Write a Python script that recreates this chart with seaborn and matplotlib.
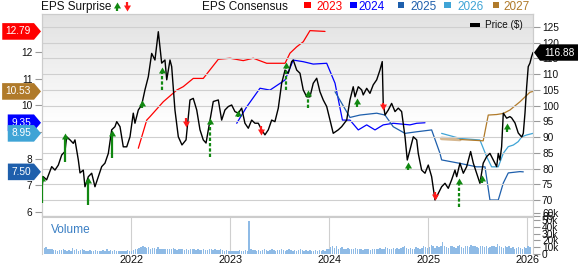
import numpy as np
import pandas as pd
import matplotlib
matplotlib.use("Agg")
import matplotlib.pyplot as plt
import seaborn as sns
from matplotlib.path import Path
from matplotlib.markers import MarkerStyle
from matplotlib.patches import Rectangle, Polygon
from matplotlib.colors import LinearSegmentedColormap

# ---------------- data (decimal years) ----------------
price_t = [2021.093, 2021.109, 2021.143, 2021.194, 2021.227, 2021.261, 2021.295, 2021.328, 2021.345, 2021.379,
           2021.412, 2021.429, 2021.463, 2021.480, 2021.513, 2021.530, 2021.564, 2021.598, 2021.631, 2021.665,
           2021.699, 2021.732, 2021.766, 2021.800, 2021.833, 2021.851, 2021.884, 2021.917, 2021.952, 2021.985,
           2022.018, 2022.035, 2022.069, 2022.103, 2022.136, 2022.170, 2022.204, 2022.237, 2022.271, 2022.305,
           2022.338, 2022.356, 2022.389, 2022.406, 2022.439, 2022.473, 2022.510, 2022.551, 2022.591, 2022.624,
           2022.659, 2022.692, 2022.725, 2022.753, 2022.793, 2022.826, 2022.877, 2022.911, 2022.944, 2022.978,
           2023.012, 2023.045, 2023.079, 2023.113, 2023.146, 2023.180, 2023.214, 2023.247, 2023.281, 2023.315,
           2023.348, 2023.382, 2023.416, 2023.449, 2023.483, 2023.517, 2023.551, 2023.584, 2023.618, 2023.634,
           2023.669, 2023.702, 2023.735, 2023.770, 2023.803, 2023.836, 2023.871, 2023.904, 2023.937, 2023.972,
           2024.005, 2024.038, 2024.089, 2024.123, 2024.174, 2024.207, 2024.240, 2024.258, 2024.291, 2024.325,
           2024.341, 2024.376, 2024.409, 2024.442, 2024.477, 2024.510, 2024.533, 2024.543, 2024.561, 2024.594,
           2024.628, 2024.662, 2024.695, 2024.729, 2024.763, 2024.786, 2024.813, 2024.847, 2024.881, 2024.897,
           2024.931, 2024.965, 2024.998, 2025.032, 2025.066, 2025.099, 2025.133, 2025.167, 2025.200, 2025.234,
           2025.268, 2025.285, 2025.318, 2025.352, 2025.386, 2025.426, 2025.453, 2025.487, 2025.520, 2025.553,
           2025.588, 2025.621, 2025.655, 2025.689, 2025.705, 2025.722, 2025.739, 2025.756, 2025.790, 2025.823,
           2025.840, 2025.874, 2025.907, 2025.942, 2025.958, 2025.975, 2025.992, 2026.008, 2026.025, 2026.042,
           2026.056]
price_v = [73.2, 77.4, 76.4, 80.6, 79.5, 81.1, 84.3, 85.4, 90.1, 89.1,
           88.0, 89.1, 82.7, 78.6, 79.5, 74.2, 77.4, 78.5, 74.2, 77.4,
           80.6, 81.7, 84.8, 92.3, 93.3, 94.9, 93.3, 86.9, 86.9, 90.1,
           97.6, 94.4, 98.6, 100.2, 105.0, 109.2, 116.6, 114.5, 123.5, 113.5,
           114.5, 108.2, 114.5, 112.4, 98.6, 90.1, 87.5, 89.1, 101.8, 102.3,
           98.6, 92.3, 89.1, 88.1, 95.4, 101.3, 101.8, 95.4, 98.6, 99.7,
           100.2, 98.1, 97.6, 99.2, 94.4, 92.8, 95.4, 94.4, 94.4, 92.3,
           90.7, 92.3, 95.4, 94.9, 99.2, 107.1, 111.3, 110.3, 114.0, 114.5,
           111.3, 110.3, 105.0, 102.8, 102.8, 107.1, 108.7, 104.4, 101.8, 99.7,
           95.4, 91.2, 92.3, 93.3, 95.4, 101.8, 106.0, 102.8, 106.0, 105.0,
           103.4, 105.5, 103.9, 106.6, 108.2, 111.3, 114.0, 100.7, 97.0, 98.6,
           100.7, 98.1, 99.2, 98.1, 90.1, 82.7, 85.9, 90.1, 89.1, 84.8,
           79.5, 78.5, 81.1, 77.4, 70.0, 72.1, 74.2, 75.3, 73.7, 76.4,
           79.5, 77.4, 81.7, 78.5, 80.6, 85.4, 81.7, 78.5, 75.3, 81.7,
           83.8, 84.8, 82.7, 80.6, 84.8, 82.7, 86.9, 97.6, 96.0, 96.5,
           96.1, 94.5, 91.3, 90.0, 91.2, 97.6, 106.0, 112.4, 113.5, 115.6,
           116.88]

eps23_t = [2022.069, 2022.154, 2022.187, 2022.321, 2022.457, 2022.523, 2022.624, 2022.725, 2022.877, 2022.995,
           2023.129, 2023.230, 2023.366, 2023.551, 2023.601, 2023.669, 2023.735, 2023.803, 2023.955]
eps23_v = [8.39, 9.45, 9.58, 10.14, 10.58, 10.71, 11.02, 11.02, 11.74, 11.78,
           11.69, 11.78, 11.59, 11.59, 11.97, 12.21, 12.40, 12.82, 12.79]
eps24_t = [2023.063, 2023.164, 2023.298, 2023.399, 2023.551, 2023.634, 2023.735, 2023.836, 2023.972, 2024.056,
           2024.131, 2024.207, 2024.291, 2024.376, 2024.460, 2024.543, 2024.644, 2024.813, 2024.881, 2024.965]
eps24_v = [9.33, 9.95, 10.65, 10.58, 10.96, 11.71, 11.65, 11.56, 11.59, 10.84,
           9.45, 9.45, 9.08, 9.27, 9.08, 9.27, 9.33, 9.27, 9.33, 9.35]
eps25_t = [2024.056, 2024.207, 2024.308, 2024.477, 2024.561, 2024.644, 2024.763, 2024.881, 2025.032, 2025.116,
           2025.133, 2025.318, 2025.487, 2025.571, 2025.621, 2025.705, 2025.756, 2025.806, 2025.924, 2025.958]
eps25_v = [10.52, 9.55, 9.64, 9.71, 9.64, 9.20, 8.95, 9.01, 9.08, 8.20,
           7.95, 7.82, 7.69, 7.69, 6.44, 6.44, 7.08, 7.46, 7.51, 7.50]
eps26_t = [2025.133, 2025.318, 2025.520, 2025.588, 2025.638, 2025.705, 2025.756, 2025.806, 2025.857, 2025.907,
           2025.942, 2025.992, 2026.056]
eps26_v = [8.95, 8.76, 8.70, 8.07, 7.69, 7.69, 8.20, 8.45, 8.51, 8.64, 8.82, 8.89, 8.95]
eps27_t = [2025.133, 2025.318, 2025.553, 2025.604, 2025.689, 2025.756, 2025.823, 2025.924, 2026.025, 2026.056]
eps27_v = [8.76, 8.72, 8.67, 9.64, 9.66, 9.70, 9.83, 10.14, 10.50, 10.53]

consensus_years = ["2023", "2024", "2025", "2026", "2027"]
consensus_last = [12.79, 9.35, 7.50, 8.95, 10.53]
price_last = 116.88

surp_t = [2021.099, 2021.328, 2021.558, 2021.806, 2022.103, 2022.305, 2022.547, 2022.793, 2023.079, 2023.308,
          2023.561, 2023.786, 2024.281, 2024.543, 2024.796, 2025.066, 2025.311, 2025.543, 2025.796]
surp_from = [69.0, 82.2, 68.4, 83.3, 99.2, 105.0, 96.0, 83.7, 96.5, 93.5,
             105.0, 99.2, 99.7, 100.7, 79.5, 72.6, 67.9, 75.3, 91.7]
surp_to = [77.9, 91.2, 77.4, 92.3, 101.8, 112.4, 93.3, 96.0, 98.6, 90.7,
           114.0, 105.0, 102.3, 98.6, 82.2, 70.0, 76.9, 77.9, 94.4]
surp_dashed = [False, False, False, False, False, True, False, True, True, False,
               True, True, True, False, True, False, True, True, True]

vol_2021 = [11, 9, 10, 8, 7, 7, 6, 6, 5, 6, 6, 7, 6, 5, 6, 5, 9, 6, 7, 5, 6, 7, 6, 5, 5, 6, 5, 5, 6, 5,
            4, 5, 6, 5, 7, 5, 6, 5, 6, 5, 4, 5, 5, 4, 5, 6, 5]
vol_2022 = [5, 6, 7, 8, 9, 10, 11, 10, 9, 10, 8, 9, 9, 8, 10, 8, 7, 8, 7, 8, 7, 8, 9, 7, 6, 7, 8, 7, 6, 7,
            6, 7, 8, 7, 6, 7, 6, 6, 7, 6, 6, 7, 8, 6, 7, 6, 6, 7, 6, 5, 6, 5]
vol_2023 = [5, 4, 5, 4, 5, 6, 4, 5, 6, 5, 48, 7, 6, 6, 5, 6, 5, 6, 7, 6, 5, 6, 7, 6, 5, 6, 6, 7, 6, 5,
            6, 7, 6, 5, 6, 5, 6, 7, 6, 5, 6, 5, 6, 5, 5, 6, 5, 6, 5, 6, 5, 7]
vol_2024 = [8, 10, 12, 9, 11, 8, 9, 10, 8, 7, 9, 8, 7, 8, 9, 7, 8, 7, 6, 7, 8, 7, 6, 7, 8, 7, 8, 9, 7, 8,
            10, 9, 8, 7, 9, 8, 9, 8, 9, 10, 11, 9, 8, 9, 7, 8, 10, 9, 8, 9, 11, 10]
vol_2025 = [9, 10, 13, 12, 9, 11, 10, 12, 17, 11, 10, 9, 12, 11, 10, 9, 11, 13, 10, 9, 12, 11, 10, 13, 12, 11, 10, 9, 11, 12,
            10, 11, 9, 10, 12, 11, 10, 14, 11, 10, 9, 11, 10, 12, 9, 10, 8, 9, 10, 9, 8, 10]
vol_2026 = [9, 11, 10]
vol_start = 2021.10

year_ticks = [2022, 2023, 2024, 2025, 2026]
eps_ticks = [6, 7, 8, 9, 10, 11, 12]
price_ticks = list(range(65, 126, 5))
vol_ticks = [0, 10000, 20000, 30000, 40000, 50000, 60000]
vol_labels = ["0", "10k", "20k", "30k", "40k", "50k", "60k"]

# ---------------- style ----------------
C23, C24, C25, C26, C27 = "#ff0000", "#0000ff", "#1e5fac", "#3fa4d6", "#b07a2a"
cons_colors = [C23, C24, C25, C26, C27]
GREEN, RED = "#118811", "#ff1a1a"
GRID = "#cfcfcf"

W, H = 578, 264
sns.set_theme(style="white")
plt.rcParams['font.family'] = ['Liberation Sans', 'DejaVu Sans']

fig = plt.figure(figsize=(W / 100, H / 100), dpi=100)
fig.patch.set_facecolor("white")

L, R, T, B = 42, 533, 14, 216
VT, VB = 213, 254


def rect(l, t, r, b):
    return [l / W, 1 - b / H, (r - l) / W, (b - t) / H]


axv = fig.add_axes(rect(L, VT, R, VB))
ax = fig.add_axes(rect(L, T, R, B))
axp = ax.twinx()
deco = fig.add_axes([0, 0, 1, 1])
deco.set_xlim(0, W)
deco.set_ylim(H, 0)
deco.axis("off")
deco.set_zorder(10)
deco.patch.set_alpha(0)

XLIM = (2021.096, 2026.056)
EPS_LIM = (5.838, 13.446)
PRICE_LIM = (64.9, 129.13)

# background gradient
ax.set_facecolor("white")
cmap_bg = LinearSegmentedColormap.from_list("bg", ["#e2e2e2", "#ffffff"])
g = np.clip(np.linspace(0, 1, 300) / 0.55, 0, 1).reshape(-1, 1)
ax.imshow(g, cmap=cmap_bg, aspect="auto", extent=(0, 1, 0, 1), transform=ax.transAxes,
          zorder=0, origin="upper", vmin=0, vmax=1)

# consensus lines
sns.lineplot(x=eps27_t[:2], y=eps27_v[:2], ax=ax, color="#d6b891", lw=2.6, estimator=None, sort=False, legend=False)
for t, v, c in [(eps23_t, eps23_v, C23), (eps24_t, eps24_v, C24), (eps25_t, eps25_v, C25),
                (eps26_t, eps26_v, C26), (eps27_t[1:], eps27_v[1:], C27)]:
    sns.lineplot(x=t, y=v, ax=ax, color=c, lw=0.9, estimator=None, sort=False, legend=False)

# price line
sns.lineplot(x=price_t, y=price_v, ax=axp, color="black", lw=1.0, estimator=None, sort=False, legend=False, zorder=3)

ax.set_xlim(XLIM)
ax.set_ylim(EPS_LIM)
axp.set_ylim(PRICE_LIM)
for a in (ax, axp):
    a.set_xlabel("")
    a.set_ylabel("")

# surprise arrows
UPM = MarkerStyle(Path([(0, 0), (-1, -1.7), (1, -1.7), (0, 0)], closed=True))
DNM = MarkerStyle(Path([(0, 0), (-1, 1.7), (1, 1.7), (0, 0)], closed=True))
units_per_px = (PRICE_LIM[1] - PRICE_LIM[0]) / (B - T)
for t, a0, a1, d in zip(surp_t, surp_from, surp_to, surp_dashed):
    up = a1 > a0
    col = GREEN if up else RED
    end = a1 - (4.5 * units_per_px if up else -4.5 * units_per_px)
    ls = (0, (1.5, 0.9)) if d else "-"
    axp.plot([t, t], [a0, end], color=col, lw=1.6, ls=ls, solid_capstyle="butt", zorder=5)
    axp.plot([t], [a1], marker=UPM if up else DNM, ms=8.6, color=col, mec=col, mew=0, zorder=6)

# grid / ticks
ax.set_xticks(year_ticks)
ax.set_yticks(eps_ticks)
axp.set_yticks(price_ticks)
ax.tick_params(axis="x", bottom=False, top=False, labelbottom=False)
axp.tick_params(axis="x", bottom=False, top=False, labelbottom=False)
ax.tick_params(axis="y", left=True, right=False, length=5, width=0.8, color="#9a9a9a",
               labelsize=7.3, pad=1.8, labelcolor="#111111")
axp.tick_params(axis="y", right=True, left=False, length=5, width=0.8, color="#9a9a9a",
                labelsize=7.3, pad=1.5, labelcolor="#111111")
ax.grid(False)
axp.grid(True, axis="both", color=GRID, lw=0.8)
axp.set_axisbelow(True)
for a in (ax, axp):
    for sp in a.spines.values():
        sp.set_color("#cccccc")
        sp.set_linewidth(0.8)

# volume
volume = np.array(vol_2021 + vol_2022 + vol_2023 + vol_2024 + vol_2025 + vol_2026) * 1000
vol_t = vol_start + np.arange(len(volume)) / 52.18
axv.bar(vol_t, volume, width=0.75 / 52.18, color="#8fbbe6", linewidth=0, zorder=2)
axv.set_xlim(XLIM)
axv.set_ylim(0, 60000)
axv.yaxis.tick_right()
axv.set_yticks(vol_ticks, vol_labels)
axv.tick_params(axis="y", right=True, left=False, length=5, width=0.8, color="#9a9a9a",
                labelsize=7.3, pad=1.5, labelcolor="#111111")
axv.set_xticks(year_ticks, [str(y) for y in year_ticks])
axv.tick_params(axis="x", bottom=False, length=0, labelsize=7.8, pad=0.6, labelcolor="#111111")
axv.grid(True, axis="x", color=GRID, lw=0.8)
axv.set_axisbelow(True)
axv.patch.set_alpha(0)
axv.spines["top"].set_visible(False)
axv.spines["bottom"].set_visible(False)
for s in ("left", "right"):
    axv.spines[s].set_color("#cccccc")
    axv.spines[s].set_linewidth(0.8)
axv.axhline(60000 * (VB - 217) / (VB - VT), color="#cccccc", lw=0.8)
deco.text(51, 230, "Volume", color="#3a7fc4", fontsize=8.6, va="center", ha="left")

# header
deco.text(41, 10, "EPS Surprise", fontsize=8.5, va="baseline", ha="left", color="#111111")
deco.plot([116.5, 116.5], [10.5, 5.5], color=GREEN, lw=1.6, solid_capstyle="butt")
deco.plot([116.5], [1.5], marker=UPM, ms=8.6, color=GREEN, mew=0)
deco.plot([127, 127], [1.5, 6.5], color=RED, lw=1.6, solid_capstyle="butt")
deco.plot([127], [10.5], marker=DNM, ms=8.6, color=RED, mew=0)

deco.text(202, 10, "EPS Consensus", fontsize=8.5, va="baseline", ha="left", color="#111111")
sq_x = [304, 350, 397.5, 444, 492.5]
tx_x = [316.5, 358, 410, 457, 503]
for yr, c, sx, tx in zip(consensus_years, cons_colors, sq_x, tx_x):
    deco.add_patch(Rectangle((sx, 1.7), 6.7, 6.7, color=c, lw=0))
    deco.text(tx, 9.5, yr, fontsize=8.5, va="baseline", ha="left", color=c)

deco.add_patch(Rectangle((470, 22.7), 10, 4, color="black", lw=0))
deco.text(485, 25, "Price ($)", fontsize=7.2, va="center", ha="left", color="#111111")

# value tags
renderer = fig.canvas.get_renderer()


def eps_px(v):
    return B - (v - EPS_LIM[0]) / (EPS_LIM[1] - EPS_LIM[0]) * (B - T)


def price_px(v):
    return B - (v - PRICE_LIM[0]) / (PRICE_LIM[1] - PRICE_LIM[0]) * (B - T)


hh = 8.3
for i in range(len(consensus_last)):  # 2023, 2024, 2025, 2026, 2027 (later ones on top)
    val, c = consensus_last[i], cons_colors[i]
    y = eps_px(val)
    t = deco.text(31, y, f"{val:.2f}", ha="right", va="center", color="white", fontsize=7.3, zorder=12 + i)
    bb = t.get_window_extent(renderer)
    left = max(bb.x0 - 3.5, 0)
    deco.add_patch(Polygon([(left, y - hh), (34, y - hh), (41, y), (34, y + hh), (left, y + hh)],
                           closed=True, fc=c, ec="none", zorder=11.5 + i))

yp = price_px(price_last)
deco.add_patch(Polygon([(534, yp), (540, yp - 8.2), (580, yp - 8.2), (580, yp + 8.2), (540, yp + 8.2)],
                       closed=True, fc="black", ec="none", zorder=20))
deco.text(544.5, yp, f"{price_last:.2f}", ha="left", va="center", color="white", fontsize=7.3, zorder=21)

fig.savefig("out.png", dpi=100)
